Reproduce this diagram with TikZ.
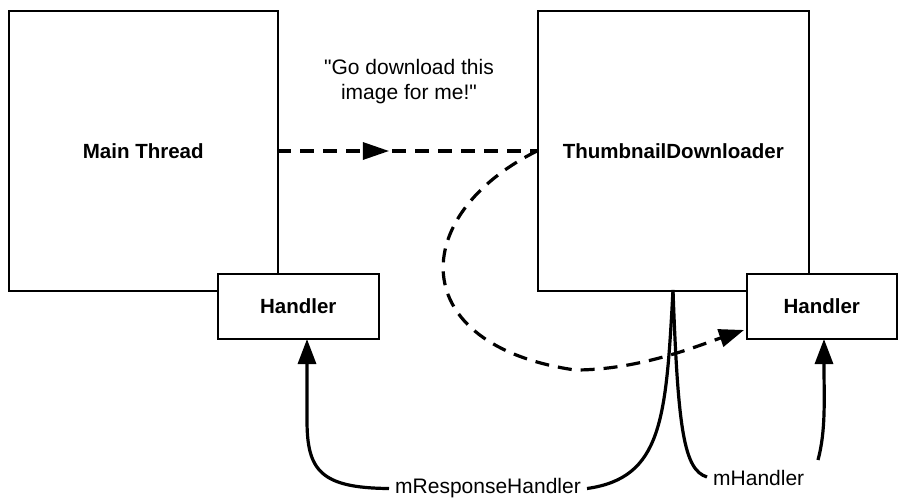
\documentclass[tikz,border=0pt]{standalone}
\usepackage{fontspec}
\setmainfont{Liberation Sans}
\newfontfamily\plainqfont{Liberation Sans}
\usetikzlibrary{arrows.meta,decorations.markings}
\begin{document}
\begin{tikzpicture}[x=1pt,y=-1pt,
  box/.style={draw,line width=1.5pt,fill=white,inner sep=0pt},
  lbl/.style={font=\fontsize{21}{25}\selectfont},
  blbl/.style={font=\bfseries\fontsize{20.5}{24}\selectfont},
  thick3/.style={line width=3.2pt},
  dash3/.style={line width=3.2pt,dash pattern=on 14pt off 9pt},
  tip/.style={-{Triangle[length=25pt,width=18pt]}}]
\useasboundingbox (0,0) rectangle (898,498);
% boxes
\node[box,minimum width=269pt,minimum height=280pt,anchor=north west] (main) at (8,10) {};
\node[blbl] at (main.center) {Main Thread};
\node[box,minimum width=271pt,minimum height=280pt,anchor=north west] (thumb) at (537,10) {};
\node[blbl] at (thumb.center) {ThumbnailDownloader};
\node[box,minimum width=161pt,minimum height=65pt,anchor=north west,blbl] (h1) at (217,273) {Handler};
\node[box,minimum width=150pt,minimum height=65pt,anchor=north west,blbl] (h2) at (746,273) {Handler};
% text
\node[font=\plainqfont\fontsize{21}{25}\selectfont,align=center] (msg) at (409,82) {"Go download this\\image for me!"};
\node[lbl,inner xsep=6pt,inner ysep=0pt] (mrh) at (488,488.5) {mResponseHandler};
\node[lbl,anchor=west,inner sep=0pt] (mh) at (713,478) {mHandler};
% coordinates
\coordinate (ms) at (277,151);
\coordinate (ts) at (537,151);
\coordinate (tb) at (673,290);
\coordinate (h1t) at (307,339);
\coordinate (h2t) at (824,339);
\coordinate (h2w) at (744,330);
% dashed straight arrow
\draw[dash3,postaction={decorate},decoration={markings,mark=at position 0.43 with {\fill (0,0) -- (-26pt,9pt) -- (-26pt,-9pt) -- cycle;}}] (ms) -- (ts);
% dashed curve
\draw[dash3,tip] (ts) .. controls (408,215) and (404,345) .. (575,370) .. controls (640,370) and (700,345) .. (h2w);
% solid curves
\draw[thick3] (tb) .. controls (666,420) and (662,478) .. (mrh.east);
\draw[thick3] (tb) .. controls (678,430) and (684,470) .. (707,477);
\draw[thick3,tip] (mrh.west) .. controls (320,488) and (307,470) .. (307,420) -- (h1t);
\draw[thick3,tip] (818,460) .. controls (826,430) and (824,400) .. (h2t);
\end{tikzpicture}
\end{document}
